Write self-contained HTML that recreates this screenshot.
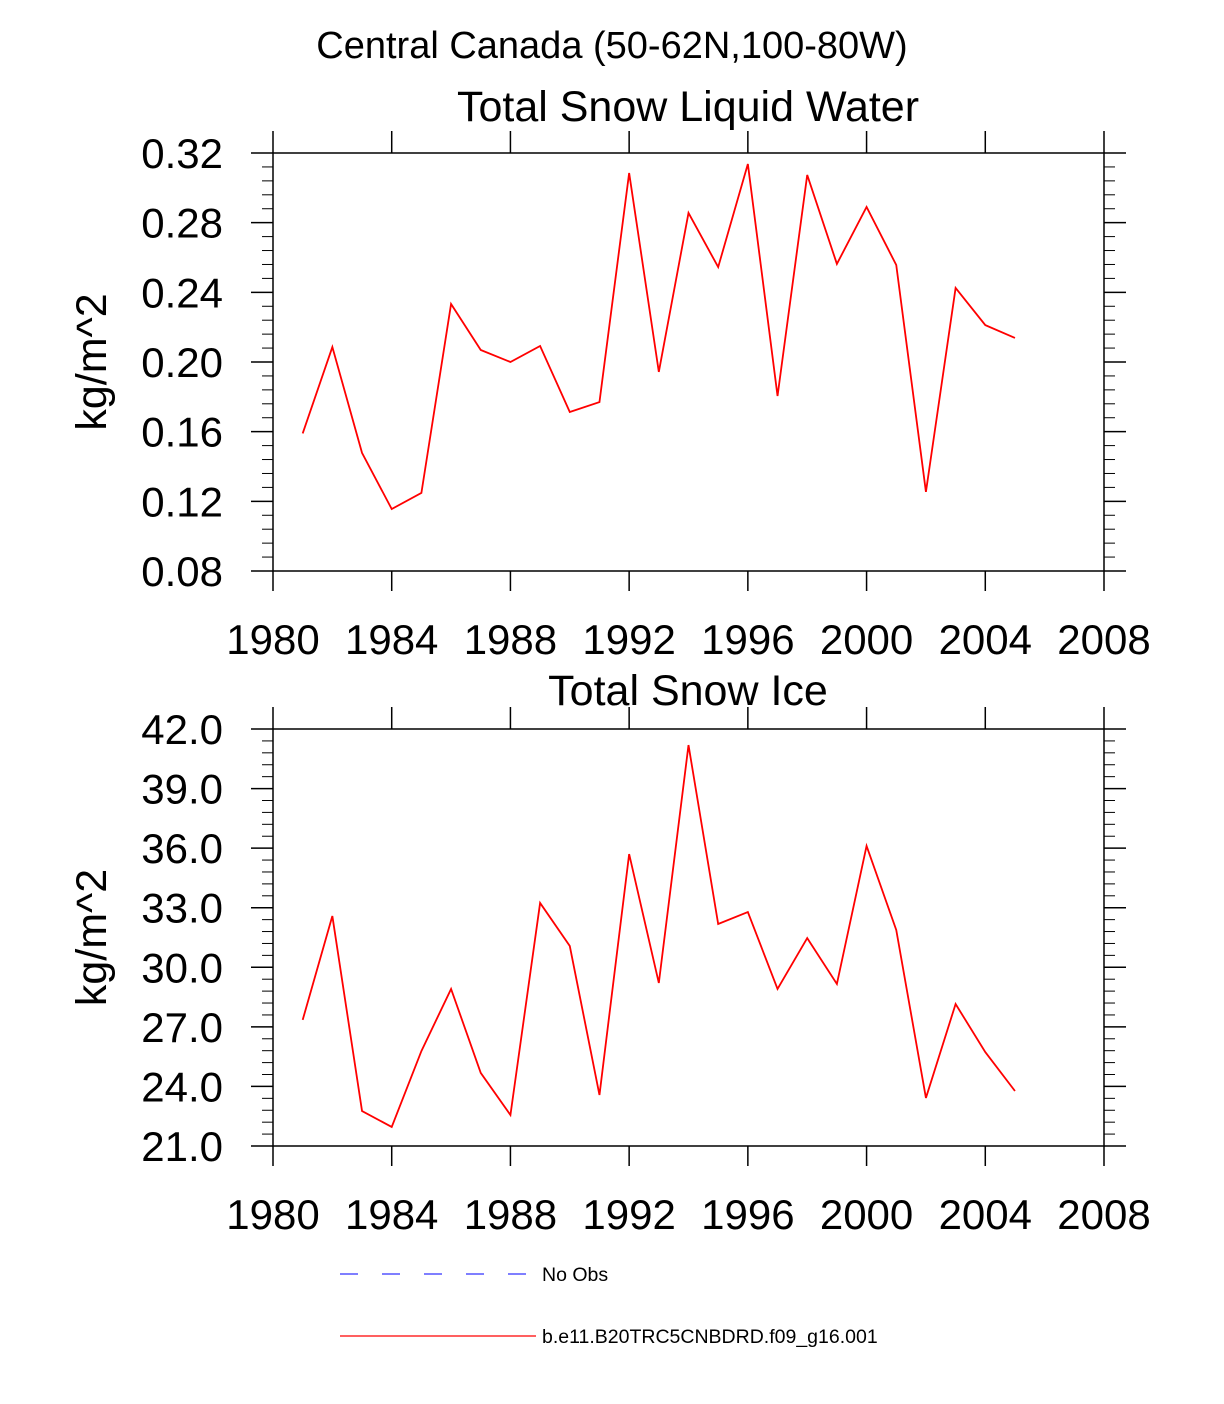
<!DOCTYPE html>
<html><head><meta charset="utf-8"><style>
html,body{margin:0;padding:0;background:#fff;}
svg{display:block;font-family:"Liberation Sans",sans-serif;}
</style></head><body>
<svg id="chart" width="1224" height="1404" viewBox="0 0 1224 1404">
<text x="612" y="58" font-size="38" text-anchor="middle">Central Canada (50-62N,100-80W)</text>
<g id="p1"></g>
<g id="p2"></g>
<line x1="340" y1="1274" x2="528" y2="1274" stroke="#3333ff" stroke-width="1.2" stroke-dasharray="18,24"/>
<text x="542" y="1281" font-size="19.5">No Obs</text>
<line x1="340" y1="1336" x2="536" y2="1336" stroke="red" stroke-width="1.2"/>
<text x="542" y="1343" font-size="19.5">b.e11.B20TRC5CNBDRD.f09_g16.001</text>
</svg>
<script>
const years=[1981,1982,1983,1984,1985,1986,1987,1988,1989,1990,1991,1992,1993,1994,1995,1996,1997,1998,1999,2000,2001,2002,2003,2004,2005];
const liquidWater=[0.159,0.2086,0.1478,0.1156,0.1248,0.2333,0.2069,0.2000,0.2092,0.1713,0.177,0.3085,0.1943,0.2856,0.2545,0.3137,0.1805,0.3074,0.2563,0.289,0.2557,0.1254,0.2425,0.2212,0.2138];
const snowIce=[27.35,32.58,22.76,21.96,25.78,28.91,24.68,22.56,33.24,31.07,23.57,35.70,29.21,41.19,32.18,32.78,28.91,31.47,29.16,36.11,31.88,23.42,28.15,25.73,23.77];
const xTicks=[1980,1984,1988,1992,1996,2000,2004,2008];
const yTicksTop=[0.08,0.12,0.16,0.20,0.24,0.28,0.32];
const yTicksBottom=[21,24,27,30,33,36,39,42];
const NS="http://www.w3.org/2000/svg";
function mk(parent,tag,attrs){const e=document.createElementNS(NS,tag);for(const k in attrs)e.setAttribute(k,attrs[k]);parent.appendChild(e);return e;}
function panel(g,top,bottom,yTicks,vals,dec,title,titleY){
  const L=273,R=1104;
  const x=v=>L+(v-1980)/(2008-1980)*(R-L);
  const y0=yTicks[0],y1=yTicks[yTicks.length-1];
  const y=v=>bottom-(v-y0)/(y1-y0)*(bottom-top);
  const t=mk(g,'text',{x:688,y:titleY,'font-size':43,'text-anchor':'middle'});t.textContent=title;
  
  
  const box=mk(g,'rect',{x:L,y:top,width:R-L,height:bottom-top,fill:'none',stroke:'#000','stroke-width':1.5});
  
  
  xTicks.forEach(v=>{
    mk(g,'line',{x1:x(v),y1:bottom,x2:x(v),y2:bottom+20,stroke:'#000','stroke-width':1.5});
    mk(g,'line',{x1:x(v),y1:top,x2:x(v),y2:top-22,stroke:'#000','stroke-width':1.5});
    const tx=mk(g,'text',{x:x(v),y:bottom+83,'font-size':42,'text-anchor':'middle'});tx.textContent=v;
    
    
  });
  const step=(yTicks[1]-yTicks[0])/5;
  for(let i=0;i<yTicks.length;i++){
    const v=yTicks[i];
    mk(g,'line',{x1:L-22,y1:y(v),x2:L,y2:y(v),stroke:'#000','stroke-width':1.5});
    mk(g,'line',{x1:R,y1:y(v),x2:R+22,y2:y(v),stroke:'#000','stroke-width':1.5});
    const ty=mk(g,'text',{x:223,y:y(v)+15,'font-size':42,'text-anchor':'end'});ty.textContent=v.toFixed(dec);
    
    
    if(i<yTicks.length-1)for(let k=1;k<5;k++){const mv=v+k*step;
      mk(g,'line',{x1:L-11,y1:y(mv),x2:L,y2:y(mv),stroke:'#000','stroke-width':1});
      mk(g,'line',{x1:R,y1:y(mv),x2:R+11,y2:y(mv),stroke:'#000','stroke-width':1});}
  }
  const yl=mk(g,'text',{x:0,y:0,'font-size':43,'text-anchor':'middle',transform:`translate(106,${(top+bottom)/2}) rotate(-90)`});yl.textContent='kg/m^2';
  
  
  const pts=years.map((yr,i)=>x(yr)+','+y(vals[i])).join(' ');
  const pl=mk(g,'polyline',{points:pts,fill:'none',stroke:'red','stroke-width':1.8});
  
  
}
panel(document.getElementById('p1'),153,571,yTicksTop,liquidWater,2,'Total Snow Liquid Water',121);
panel(document.getElementById('p2'),729,1146,yTicksBottom,snowIce,1,'Total Snow Ice',705);
</script>
</body></html>
